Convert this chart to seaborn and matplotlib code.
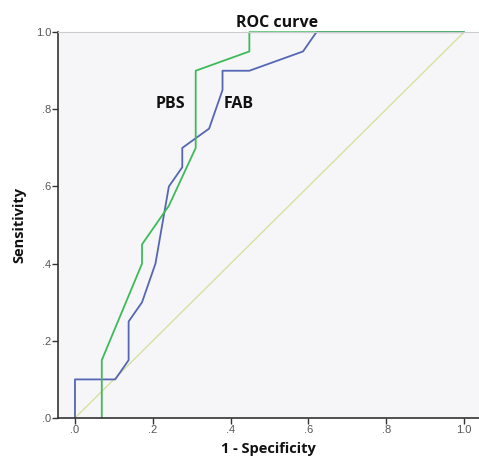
import numpy as np
import pandas as pd
import matplotlib
matplotlib.use("Agg")
import matplotlib.pyplot as plt
import seaborn as sns

# ROC points (1 - specificity, sensitivity)
fab_fpr = [0, 0, 3/29, 4/29, 4/29, 5/29, 6/29, 7/29, 8/29, 8/29, 10/29, 11/29, 11/29, 13/29, 17/29, 18/29, 1]
fab_tpr = [0, 0.10, 0.10, 0.15, 0.25, 0.30, 0.40, 0.60, 0.65, 0.70, 0.75, 0.85, 0.90, 0.90, 0.95, 1.0, 1.0]

pbs_fpr = [2/29, 2/29, 5/29, 5/29, 7/29, 9/29, 9/29, 13/29, 13/29, 1]
pbs_tpr = [0, 0.15, 0.40, 0.45, 0.55, 0.70, 0.90, 0.95, 1.0, 1.0]

ref_x = [0, 1]
ref_y = [0, 1]

tick_vals = [0, 0.2, 0.4, 0.6, 0.8, 1.0]
tick_labels = [".0", ".2", ".4", ".6", ".8", "1.0"]

df = pd.concat([
    pd.DataFrame({"fpr": fab_fpr, "tpr": fab_tpr, "curve": "FAB"}),
    pd.DataFrame({"fpr": pbs_fpr, "tpr": pbs_tpr, "curve": "PBS"}),
    pd.DataFrame({"fpr": ref_x, "tpr": ref_y, "curve": "Reference"}),
], ignore_index=True)

sns.set_style("white")
plt.rcParams["font.family"] = ["Liberation Sans", "DejaVu Sans"]

fig = plt.figure(figsize=(4.79, 4.66), dpi=100)
ax = fig.add_axes([0.121, 0.103, 0.879, 0.828])
ax.set_facecolor("#f6f6f8")

palette = {"FAB": "#5566b4", "PBS": "#3fba5a", "Reference": "#d6e1a0"}
sns.lineplot(data=df, x="fpr", y="tpr", hue="curve", palette=palette,
             sort=False, estimator=None, legend=False, ax=ax, linewidth=1.3)
for ln in ax.lines:
    ln.set_clip_on(False)
# reference line drawn thinner, below the curves
ax.lines[-1].set_linewidth(1.0)
ax.lines[-1].set_zorder(1)

ax.set_xlim(-0.0437, 1.0386)
ax.set_ylim(0, 1)
ax.set_xticks(tick_vals)
ax.set_xticklabels(tick_labels)
ax.set_yticks(tick_vals)
ax.set_yticklabels(tick_labels)
ax.tick_params(axis="both", direction="out", length=4, width=1, color="#333333",
               labelsize=8, labelcolor="#555555", pad=1, bottom=True, left=True)

for side in ["left", "bottom"]:
    ax.spines[side].set_color("#333333")
    ax.spines[side].set_linewidth(1.2)
ax.spines["top"].set_color("#cccccc")
ax.spines["top"].set_linewidth(0.8)
ax.spines["right"].set_visible(False)

bold = dict(family=["Open Sans", "DejaVu Sans"], fontweight="bold", color="#111111")
ax.set_title("ROC curve", fontsize=11.5, pad=4, x=0.52, **bold)
ax.set_xlabel("1 - Specificity", fontsize=10.5, labelpad=5, **bold)
ax.set_ylabel("Sensitivity", fontsize=10.5, labelpad=7, **bold)

ax.text(0.246, 0.815, "PBS", ha="center", va="center", fontsize=11.5, **bold)
ax.text(0.42, 0.815, "FAB", ha="center", va="center", fontsize=11.5, **bold)

fig.savefig("out.png", dpi=100)
